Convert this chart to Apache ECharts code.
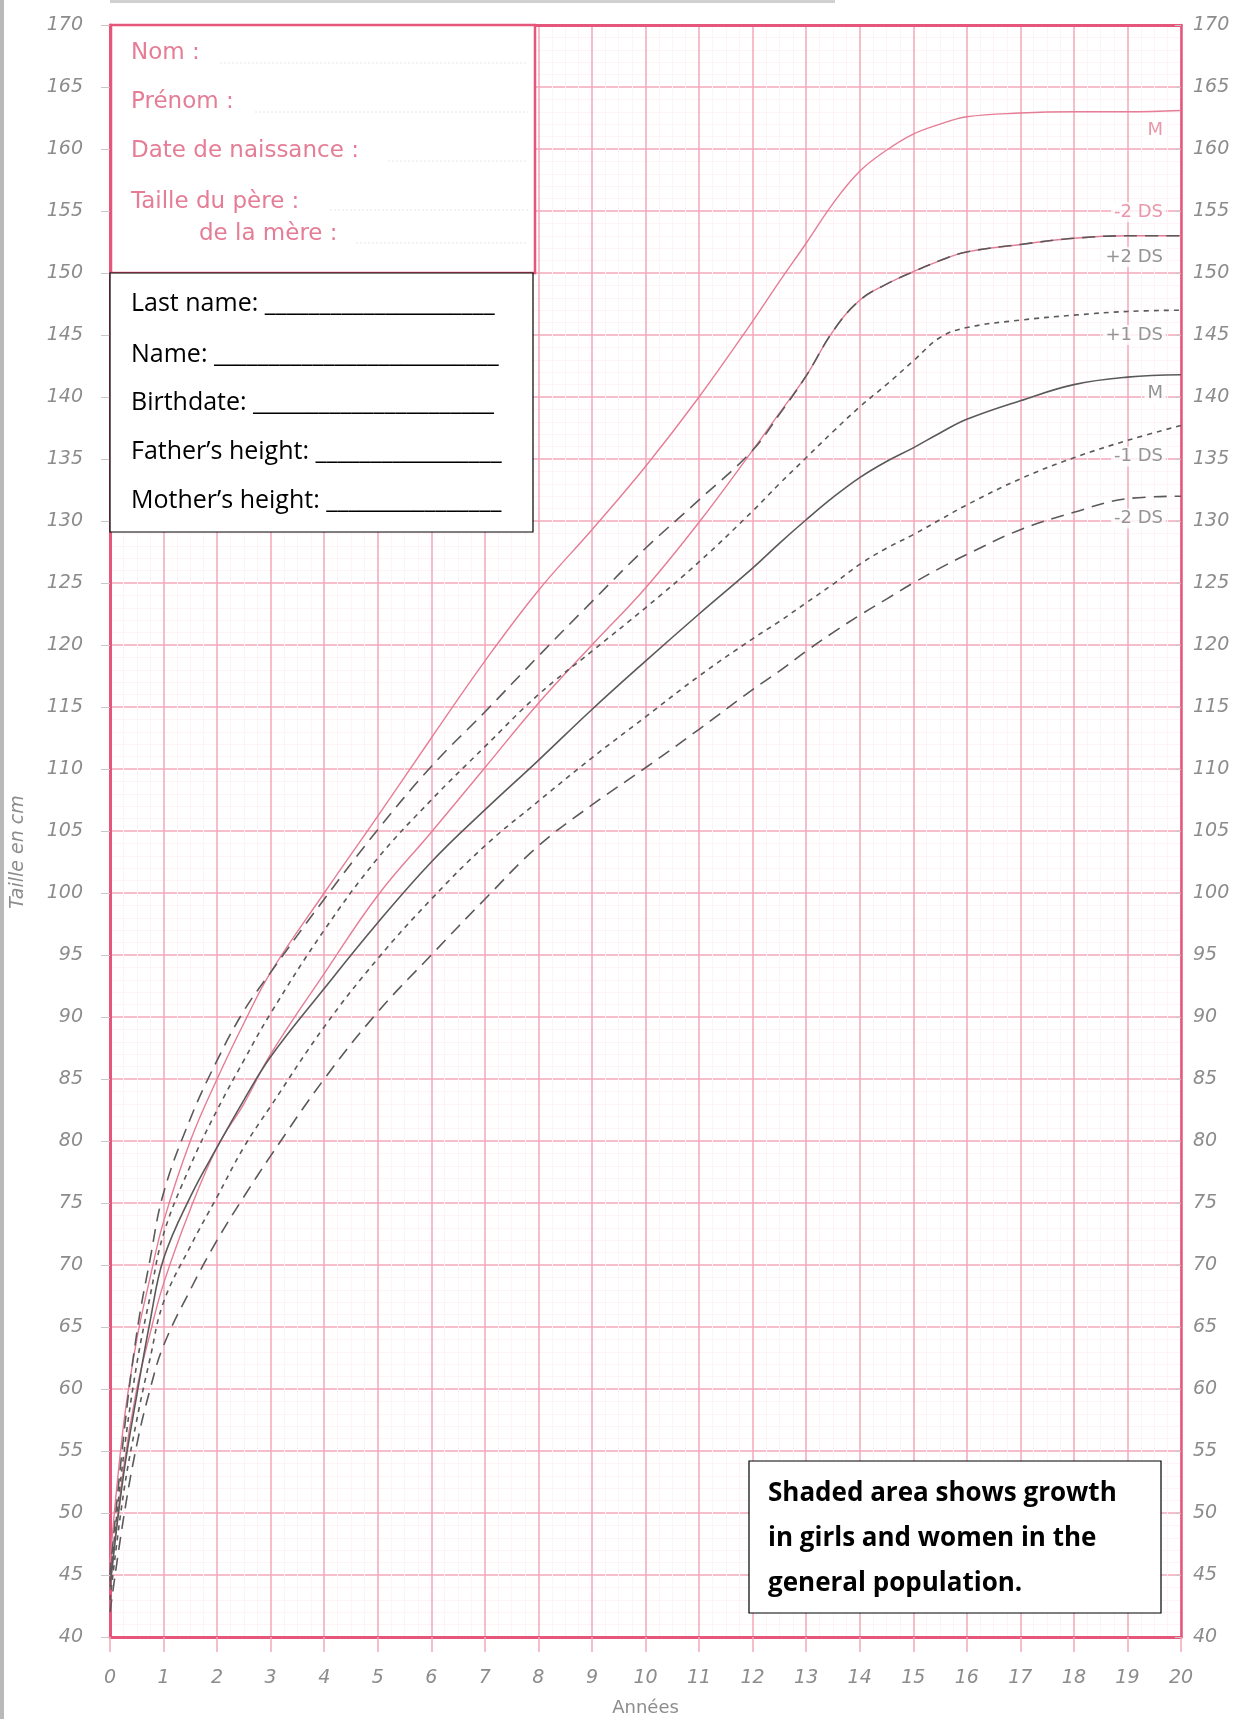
<!DOCTYPE html>
<html><head><meta charset="utf-8">
<script src="https://cdn.jsdelivr.net/npm/echarts@6/dist/echarts.min.js"></script>
<style>html,body{margin:0;padding:0;background:#fff}#c{width:1234px;height:1719px}</style>
</head><body><div id="c"></div>
<script>
// ---- data (age in years, height in cm) ----
const ages        = [0, 0.25, 0.5, 0.75, 1, 1.5, 2, 2.5, 3, 4, 5, 6, 7, 8, 9, 10, 11, 12, 12.5, 13, 13.5, 14, 14.5, 15, 15.5, 16, 17, 18, 19, 20];
const popMedian   = [46, 57, 64, 69, 73.5, 80, 85, 89.5, 93.6, 100, 106.2, 112.5, 118.7, 124.4, 129.3, 134.4, 140, 146.1, 149.3, 152.4, 155.6, 158.2, 159.9, 161.2, 162.0, 162.6, 162.9, 163, 163, 163.1];
const popMinus2   = [44, 53.5, 60, 64.5, 68.5, 74.5, 79.5, 83, 87, 93.5, 99.8, 104.9, 110.1, 115.3, 120, 124.6, 129.9, 135.7, 138.7, 141.7, 145.3, 147.8, 149.1, 150.1, 151.0, 151.7, 152.3, 152.8, 153, 153];
const turnerPlus2 = [45, 56, 64.5, 70.5, 75.8, 81.8, 86.5, 90.5, 93.6, 99.5, 105.1, 110.2, 114.6, 119.1, 123.5, 127.8, 131.7, 135.7, 138.6, 141.7, 145.3, 147.8, 149.1, 150.1, 151.0, 151.7, 152.3, 152.8, 153, 153];
const turnerPlus1 = [44.5, 54.5, 62, 67.5, 72.5, 78, 82.5, 86.5, 90.3, 97, 102.8, 107.5, 111.8, 116, 119.5, 123, 126.7, 130.8, 133, 135.1, 137.2, 139.2, 141.0, 142.9, 144.8, 145.6, 146.2, 146.6, 146.9, 147];
const turnerMed   = [44, 53, 59.5, 65.5, 70.5, 75.5, 79.5, 83.3, 86.8, 92.3, 97.6, 102.5, 106.7, 110.7, 114.8, 118.7, 122.5, 126.2, 128.2, 130.1, 131.9, 133.5, 134.8, 135.9, 137.1, 138.2, 139.7, 141.0, 141.6, 141.8];
const turnerMin1  = [43, 51.5, 57.5, 62.5, 67, 71.5, 75.5, 79.5, 82.8, 89.2, 94.7, 99.5, 103.8, 107.4, 110.9, 114.2, 117.5, 120.5, 121.9, 123.4, 124.9, 126.5, 127.8, 128.9, 130.1, 131.3, 133.4, 135.1, 136.5, 137.7];
const turnerMin2  = [42, 49.5, 55.5, 60, 63.5, 68, 72, 75.5, 78.8, 85, 90.4, 95, 99.5, 103.8, 107.1, 110.1, 113.2, 116.4, 117.9, 119.5, 121, 122.4, 123.7, 125, 126.2, 127.3, 129.3, 130.7, 131.8, 132];

const curveLabelText   = ['M', '-2 DS', '+2 DS', '+1 DS', 'M', '-1 DS', '-2 DS'];
const curveLabelHeight = [161.5, 154.9, 151.3, 145, 140.3, 135.2, 130.2];
const curveLabelIsPop  = [true, true, false, false, false, false, false];
const curveLabelAge    = 19.72;

const xRange = [0, 20], yRange = [40, 170];
const xTitle = 'Années', yTitle = 'Taille en cm';
const formLinesFr = ['Nom :', 'Prénom :', 'Date de naissance :', 'Taille du père :', 'de la mère :'];
const formLinesEn = ['Last name: _____________________', 'Name: __________________________', 'Birthdate: ______________________', 'Father’s height: _________________', 'Mother’s height: ________________'];
const noteLines = ['Shaded area shows growth', 'in girls and women in the', 'general population.'];

// ---- chart ----
const PINK = '#e47d95', BORDER = '#e6557a', GRID = '#f3a8ba', MINOR = '#fef3f6', DARK = '#5a5a5a', GRAY = '#8c8c8c';
const pts = arr => ages.map((a, i) => [a, arr[i]]);
const labelFont = {color: GRAY, fontSize: 19, fontStyle: 'italic', fontFamily: 'DejaVu Sans'};

function curve(name, arr, color, width, type, z) {
  return {name, type: 'line', data: pts(arr), smooth: 0.4, showSymbol: false, symbol: 'none',
    lineStyle: {color, width, type}, z: z || 3, silent: true};
}

const chart = echarts.init(document.getElementById('c'), null, {renderer: 'canvas'});
const fy = [53, 102, 151, 202, 234];
const fx = [131, 131, 131, 131, 199];
const fLineFrom = [220, 255, 388, 330, 356];
const fLineY = [63, 112, 161, 210, 243];
const graphics = [
  {type: 'rect', shape: {x: 0, y: 0, width: 4, height: 1719}, style: {fill: '#b9b9b9'}, z: 100},
  {type: 'rect', shape: {x: 110, y: 0, width: 725, height: 3}, style: {fill: '#d0d0d0'}, z: 100},
  {type: 'text', x: 18, y: 852, rotation: Math.PI / 2, style: {text: yTitle, fill: GRAY, font: 'italic 19px "DejaVu Sans"', textAlign: 'center', textVerticalAlign: 'middle'}, z: 100},
  {type: 'rect', shape: {x: 111, y: 25, width: 424, height: 248}, style: {fill: '#fff', stroke: BORDER, lineWidth: 2.5}, z: 100}
];
formLinesFr.forEach((t, i) => {
  graphics.push({type: 'text', x: fx[i], y: fy[i], style: {text: t, fill: PINK, font: '23px "DejaVu Sans"', textVerticalAlign: 'middle'}, z: 101});
  graphics.push({type: 'line', shape: {x1: fLineFrom[i], y1: fLineY[i], x2: 528, y2: fLineY[i]}, style: {stroke: '#e6e6e6', lineWidth: 1, lineDash: [2, 2]}, z: 101});
});
graphics.push({type: 'rect', shape: {x: 110, y: 273, width: 423, height: 259}, style: {fill: '#fff', stroke: '#000', lineWidth: 1.2}, z: 102});
const ey = [304, 355, 403, 452, 501];
formLinesEn.forEach((t, i) => {
  graphics.push({type: 'text', x: 131, y: ey[i], style: {text: t, fill: '#000', font: '25px "Open Sans"', textVerticalAlign: 'middle'}, z: 103});
});
graphics.push({type: 'rect', shape: {x: 749, y: 1461, width: 412, height: 152}, style: {fill: '#fff', stroke: '#000', lineWidth: 1.2}, z: 102});
const ny = [1494, 1539, 1584];
noteLines.forEach((t, i) => {
  graphics.push({type: 'text', x: 768, y: ny[i], style: {text: t, fill: '#000', font: 'bold 26px "Open Sans"', textVerticalAlign: 'middle'}, z: 103});
});

const option = {
  animation: false,
  backgroundColor: '#fff',
  grid: {left: 110, right: 53, top: 25, bottom: 82, show: false, containLabel: false, outerBoundsMode: 'none'},
  xAxis: [
    {type: 'value', min: xRange[0], max: xRange[1], interval: 1, position: 'bottom',
      axisLine: {show: true, onZero: false, lineStyle: {color: BORDER, width: 3}},
      axisTick: {show: true, length: 15, lineStyle: {color: GRID, width: 1.5}},
      axisLabel: Object.assign({margin: 32}, labelFont),
      splitLine: {show: true, lineStyle: {color: GRID, width: 1.5}},
      minorTick: {show: false, splitNumber: 4},
      minorSplitLine: {show: true, lineStyle: {color: MINOR, width: 1}},
      name: xTitle, nameLocation: 'middle', nameGap: 62,
      nameTextStyle: {color: GRAY, fontSize: 18, fontFamily: 'DejaVu Sans'}},
    {type: 'value', min: xRange[0], max: xRange[1], position: 'top',
      axisLine: {show: true, onZero: false, lineStyle: {color: BORDER, width: 3}},
      axisTick: {show: false}, axisLabel: {show: false}, splitLine: {show: false}}
  ],
  yAxis: [
    {type: 'value', min: yRange[0], max: yRange[1], interval: 5, position: 'left',
      axisLine: {show: true, onZero: false, lineStyle: {color: BORDER, width: 3}},
      axisTick: {show: true, length: 9, lineStyle: {color: '#c8c8c8', width: 1}},
      axisLabel: Object.assign({margin: 27}, labelFont),
      splitLine: {show: true, lineStyle: {color: GRID, width: 1.5}},
      minorTick: {show: false, splitNumber: 5},
      minorSplitLine: {show: true, lineStyle: {color: MINOR, width: 1}}},
    {type: 'value', min: yRange[0], max: yRange[1], interval: 5, position: 'right',
      axisLine: {show: true, onZero: false, lineStyle: {color: BORDER, width: 2.5}},
      axisTick: {show: true, inside: true, length: 6, lineStyle: {color: '#c8c8c8'}},
      axisLabel: Object.assign({margin: 12}, labelFont),
      splitLine: {show: false}}
  ],
  series: [
    curve('Population M', popMedian, PINK, 1.4, 'solid', 4),
    curve('Population -2 DS', popMinus2, PINK, 1.4, 'solid', 4),
    curve('Turner +2 DS', turnerPlus2, DARK, 1.6, [13, 8], 5),
    curve('Turner +1 DS', turnerPlus1, DARK, 1.6, [5, 5], 5),
    curve('Turner M', turnerMed, DARK, 1.6, 'solid', 5),
    curve('Turner -1 DS', turnerMin1, DARK, 1.6, [5, 5], 5),
    curve('Turner -2 DS', turnerMin2, DARK, 1.6, [13, 8], 5),
    {type: 'scatter', symbolSize: 0, silent: true, z: 6,
      data: curveLabelText.map((t, i) => ({value: [curveLabelAge, curveLabelHeight[i]],
        label: {show: true, position: 'left', distance: 0, formatter: t,
          color: curveLabelIsPop[i] ? PINK : '#7a7a7a', fontSize: 18, fontFamily: 'DejaVu Sans',
          backgroundColor: '#fff', padding: [1, 3]}}))}
  ],
  graphic: graphics
};
chart.setOption(option);
</script></body></html>
